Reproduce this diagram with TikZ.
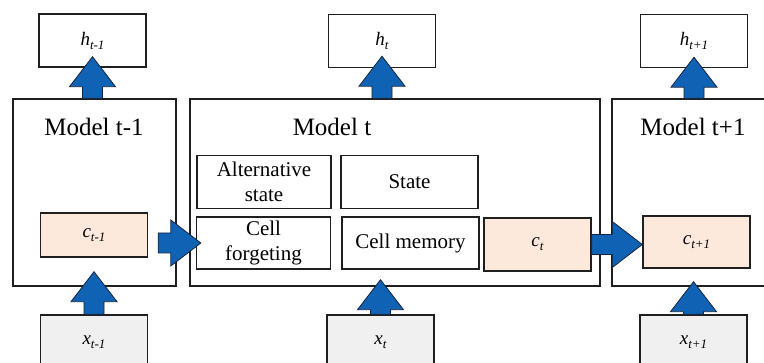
\documentclass[tikz,border=0pt]{standalone}
\usepackage{fontspec}
\setmainfont{Liberation Serif}
\usetikzlibrary{calc}

\definecolor{arrowblue}{RGB}{16,99,180}
\definecolor{arrowedge}{RGB}{22,36,60}
\definecolor{cellfill}{RGB}{252,233,219}
\definecolor{inputfill}{RGB}{240,240,240}

\newcommand{\vlab}[2]{\fontsize{19}{22}\selectfont\textit{#1}\raisebox{-4pt}{\fontsize{13}{15}\selectfont\textit{#2}}}

\tikzset{
  box/.style={draw=black!88, line width=1.4pt, rectangle, inner sep=0pt, align=center},
  model/.style={box, minimum height=187pt},
  title/.style={font=\fontsize{25}{30}\selectfont},
  gate/.style={box, minimum width=134pt, minimum height=53pt, font=\fontsize{21}{25}\selectfont},
  outbox/.style={box, minimum width=107pt, minimum height=53pt},
  inbox/.style={box, fill=inputfill, minimum width=107pt, minimum height=54pt},
  cellbox/.style={box, fill=cellfill, minimum width=107pt},
  fat/.style={draw=arrowedge, fill=arrowblue, line width=0.8pt, line join=miter,
    to path={let \p1=($(\tikztotarget)!-#1!(\tikztostart)$),
                 \p2=($(\p1)!30pt!(\tikztostart)$) in
      ($(\tikztostart)!10pt!90:(\p1)$) -- ($(\p2)!10pt!90:(\p1)$)
      -- ($(\p2)!23pt!90:(\p1)$) -- (\p1) -- ($(\p2)!23pt!-90:(\p1)$)
      -- ($(\p2)!10pt!-90:(\p1)$) -- ($(\tikztostart)!10pt!-90:(\p1)$) -- cycle}},
  fat/.default=0pt
}

\begin{document}
\begin{tikzpicture}[x=1pt,y=-1pt]
  \useasboundingbox (0,0) rectangle (764,363);
  \clip (0,0) rectangle (764,363);
  % the three models
  \node[model, minimum width=163pt] (M1) at (94.5,192.5) {};
  \node[model, minimum width=410pt] (M2) at (395,192.5) {};
  \node[model, minimum width=188pt] (M3) at (706,192.5) {};
  \node[title] (T1) at (94,127) {Model t-1};
  \node[title] (T2) at (332,127) {Model t};
  \node[title] (T3) at (693,127) {Model t+1};
  % inside model t
  \node[gate] (AS) at (264,182) {Alternative\\state};
  \node[gate, minimum width=137pt] (ST) at (409.5,182) {State};
  \node[gate, minimum height=52pt] (CF) at (263.5,243) {Cell\\forgeting};
  \node[gate, minimum width=137pt, minimum height=52pt] (CM) at (410.5,243) {Cell memory};
  % cell states
  \node[cellbox, minimum height=44pt] (C1) at (94,235) {\vlab{c}{t-1}};
  \node[cellbox, minimum height=53pt] (CT) at (537.5,244.5) {\vlab{c}{t}};
  \node[cellbox, minimum height=52pt] (C3) at (696.5,242) {\vlab{c}{t+1}};
  % outputs and inputs
  \node[outbox] (H1) at (92.5,40.5) {\vlab{h}{t-1}};
  \node[outbox] (H2) at (382,41) {\vlab{h}{t}};
  \node[outbox] (H3) at (694,41) {\vlab{h}{t+1}};
  \node[inbox] (X1) at (94,342) {\vlab{x}{t-1}};
  \node[inbox] (X2) at (380.5,342) {\vlab{x}{t}};
  \node[inbox] (X3) at (693.5,342) {\vlab{x}{t+1}};
  % block arrows
  \draw[fat=15pt] (X1.north) to (X1.north |- M1.south);
  \draw[fat=11pt] (H1.south |- M1.north) to (H1.south);
  \draw[fat=5pt] ($(C1.east |- CF.west)+(10,0)$) to (CF.west);
  \draw[fat=7pt] (X2.north) to (X2.north |- M2.south);
  \draw[fat=12pt] (H2.south |- M2.north) to (H2.south);
  \draw[fat] (CT.east) to (CT.east -| C3.west);
  \draw[fat=5pt] (X3.north) to (X3.north |- M3.south);
  \draw[fat=11pt] (H3.south |- M3.north) to (H3.south);
\end{tikzpicture}
\end{document}
